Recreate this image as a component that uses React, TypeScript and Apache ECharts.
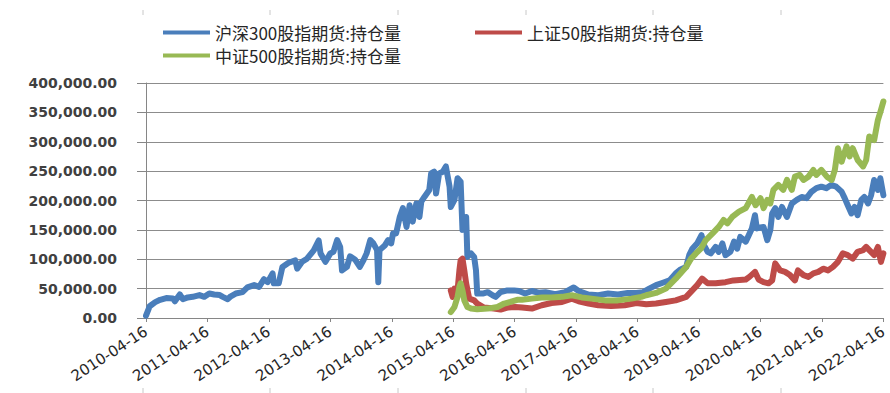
import React, { useEffect, useRef } from "react";
import * as echarts from "echarts";

// x values are decimal years; the axis starts at 2010-04-16 (~2010.29)
const START_YEAR = 2010.29;
const X_TICK_LABELS = [
  "2010-04-16", "2011-04-16", "2012-04-16", "2013-04-16", "2014-04-16", "2015-04-16",
  "2016-04-16", "2017-04-16", "2018-04-16", "2019-04-16", "2020-04-16", "2021-04-16", "2022-04-16",
];
const Y_MIN = 0;
const Y_MAX = 400000;
const Y_INTERVAL = 50000;

const SERIES_NAMES = ["沪深300股指期货:持仓量", "上证50股指期货:持仓量", "中证500股指期货:持仓量"];
const SERIES_COLORS = ["#4A7EBB", "#BE4B48", "#98B954"];

const HS300: [number, number][] = [
  [2010.29, 4000], [2010.35, 20000], [2010.44, 27000], [2010.52, 31000], [2010.62, 34000], [2010.73, 33000],
  [2010.76, 28500], [2010.84, 40000], [2010.89, 32000], [2010.97, 35000], [2011.05, 36000], [2011.16, 39000],
  [2011.24, 36000], [2011.32, 41600], [2011.40, 40000], [2011.49, 39000], [2011.54, 36000], [2011.62, 32000],
  [2011.67, 37000], [2011.75, 41600], [2011.86, 44000], [2011.94, 52000], [2012.05, 56000], [2012.13, 53000],
  [2012.21, 66000], [2012.27, 61000], [2012.35, 76000], [2012.37, 59000], [2012.45, 59000], [2012.51, 87000],
  [2012.61, 94000], [2012.72, 98000], [2012.75, 84000], [2012.83, 95600], [2012.91, 101000], [2013.02, 115000],
  [2013.10, 132000], [2013.13, 110000], [2013.21, 95600], [2013.29, 110000], [2013.34, 112600], [2013.40, 132600],
  [2013.45, 121000], [2013.48, 81000], [2013.56, 87000], [2013.61, 105000], [2013.69, 99700], [2013.77, 87000],
  [2013.83, 98500], [2013.88, 110000], [2013.94, 132600], [2013.99, 127000], [2014.05, 115500], [2014.07, 61000],
  [2014.09, 115500], [2014.18, 124000], [2014.23, 132600], [2014.28, 127000], [2014.31, 144000], [2014.36, 144000],
  [2014.42, 172000], [2014.47, 187000], [2014.53, 155000], [2014.58, 192000], [2014.63, 164000], [2014.69, 195000],
  [2014.74, 172000], [2014.77, 198000], [2014.82, 206000], [2014.90, 218000], [2014.93, 246000], [2014.98, 249000],
  [2015.01, 212000], [2015.06, 246000], [2015.12, 249000], [2015.17, 258000], [2015.23, 223600], [2015.25, 189000],
  [2015.31, 201000], [2015.36, 238000], [2015.41, 232000], [2015.44, 150000], [2015.50, 172000], [2015.52, 104000],
  [2015.58, 110000], [2015.63, 104000], [2015.66, 81000], [2015.68, 41600], [2015.77, 41600], [2015.85, 44000],
  [2015.93, 38700], [2015.98, 36000], [2016.06, 44000], [2016.17, 47000], [2016.28, 47000], [2016.36, 46000],
  [2016.46, 41600], [2016.57, 46000], [2016.68, 43000], [2016.79, 44000], [2016.95, 40400], [2017.11, 44000],
  [2017.25, 52000], [2017.33, 46000], [2017.49, 40000], [2017.65, 38700], [2017.81, 41600], [2017.97, 40000],
  [2018.13, 42700], [2018.27, 42700], [2018.38, 44000], [2018.48, 50000], [2018.59, 56000], [2018.70, 60000],
  [2018.81, 64000], [2018.91, 76000], [2018.99, 82600], [2019.08, 87000], [2019.13, 107000], [2019.18, 118000],
  [2019.26, 127000], [2019.33, 141000], [2019.37, 124000], [2019.43, 112600], [2019.48, 110000], [2019.56, 121000],
  [2019.61, 112600], [2019.67, 127000], [2019.72, 107000], [2019.80, 112600], [2019.86, 130000], [2019.91, 118000],
  [2019.96, 138000], [2020.05, 130000], [2020.10, 141000], [2020.15, 152500], [2020.20, 175000], [2020.23, 152500],
  [2020.29, 154000], [2020.34, 155000], [2020.40, 132600], [2020.45, 150000], [2020.48, 178000], [2020.53, 187000],
  [2020.58, 172000], [2020.64, 189000], [2020.72, 172000], [2020.80, 195000], [2020.88, 201000], [2020.96, 206000],
  [2021.04, 204000], [2021.12, 215000], [2021.20, 221000], [2021.28, 223600], [2021.36, 221000], [2021.44, 226500],
  [2021.52, 223600], [2021.61, 215000], [2021.66, 204000], [2021.71, 192000], [2021.77, 178000], [2021.82, 189000],
  [2021.87, 175000], [2021.93, 201000], [2021.98, 206000], [2022.04, 195000], [2022.09, 209000], [2022.14, 235000],
  [2022.20, 218000], [2022.24, 238000], [2022.29, 209000],
];

const SZ50: [number, number][] = [
  [2015.25, 47000], [2015.28, 36000], [2015.31, 50000], [2015.36, 47000], [2015.39, 81000], [2015.41, 98000],
  [2015.44, 101000], [2015.47, 81000], [2015.50, 59000], [2015.55, 33000], [2015.63, 30000], [2015.68, 24600],
  [2015.79, 17700], [2015.95, 16000], [2016.06, 14300], [2016.17, 17700], [2016.30, 18800], [2016.41, 17700],
  [2016.57, 16000], [2016.73, 21700], [2016.89, 25600], [2017.06, 27300], [2017.22, 33000], [2017.33, 28500],
  [2017.49, 24600], [2017.65, 21700], [2017.86, 20500], [2018.08, 21700], [2018.27, 25600], [2018.43, 23400],
  [2018.59, 24600], [2018.75, 27300], [2018.91, 30000], [2019.08, 36000], [2019.18, 47000], [2019.26, 56000],
  [2019.34, 67000], [2019.43, 59000], [2019.56, 59000], [2019.72, 61000], [2019.85, 64000], [2020.05, 65500],
  [2020.11, 70000], [2020.20, 78500], [2020.26, 65500], [2020.34, 61000], [2020.42, 59000], [2020.48, 64000],
  [2020.53, 93000], [2020.61, 81000], [2020.69, 78500], [2020.77, 73000], [2020.85, 64000], [2020.90, 81000],
  [2020.99, 73000], [2021.07, 70000], [2021.15, 76000], [2021.23, 78500], [2021.31, 84000], [2021.39, 81000],
  [2021.47, 87000], [2021.55, 95600], [2021.63, 110000], [2021.71, 107000], [2021.79, 101000], [2021.87, 112600],
  [2021.96, 115500], [2022.01, 121000], [2022.06, 115500], [2022.14, 107000], [2022.20, 121000], [2022.25, 95600],
  [2022.29, 110000],
];

const ZZ500: [number, number][] = [
  [2015.25, 10000], [2015.31, 18800], [2015.36, 36000], [2015.39, 53000], [2015.41, 59000], [2015.44, 47000],
  [2015.47, 30000], [2015.52, 18800], [2015.58, 16000], [2015.68, 14800], [2015.85, 16000], [2016.01, 18800],
  [2016.12, 24600], [2016.22, 27300], [2016.33, 31000], [2016.41, 31000], [2016.57, 33000], [2016.73, 35000],
  [2016.89, 35000], [2017.06, 36000], [2017.22, 38700], [2017.38, 35000], [2017.54, 33000], [2017.76, 30000],
  [2017.97, 30000], [2018.19, 33000], [2018.35, 36000], [2018.43, 38700], [2018.59, 42700], [2018.75, 50000],
  [2018.91, 67000], [2019.08, 87000], [2019.16, 101000], [2019.24, 110000], [2019.32, 118000], [2019.40, 132600],
  [2019.51, 144000], [2019.61, 155000], [2019.69, 167000], [2019.75, 161000], [2019.83, 172000], [2019.94, 181000],
  [2020.05, 187000], [2020.15, 206000], [2020.21, 192000], [2020.29, 204000], [2020.34, 187000], [2020.40, 201000],
  [2020.45, 195000], [2020.50, 218000], [2020.58, 226500], [2020.66, 218000], [2020.72, 235000], [2020.80, 218000],
  [2020.85, 240600], [2020.93, 243500], [2020.99, 235000], [2021.07, 240600], [2021.15, 252000], [2021.20, 243500],
  [2021.28, 252000], [2021.37, 240600], [2021.45, 235000], [2021.50, 252000], [2021.55, 289000], [2021.61, 266000],
  [2021.69, 292000], [2021.74, 275000], [2021.79, 289000], [2021.87, 269000], [2021.96, 258000], [2022.01, 269000],
  [2022.06, 309000], [2022.14, 303000], [2022.20, 337000], [2022.25, 354000], [2022.29, 368600],
];

const SERIES_DATA = [HS300, SZ50, ZZ500];

// decorative ruler marks at the top and bottom edges of the source picture
const RULER_X = [143, 270, 398, 526, 653, 781];

const toAxis = (pts: [number, number][]) =>
  pts.map(([yr, v]) => [Math.round((yr - START_YEAR) * 10000) / 10000, v]);

export default function App() {
  const ref = useRef<HTMLDivElement>(null);
  useEffect(() => {
    if (!ref.current) return;
    const chart = echarts.init(ref.current, undefined, { renderer: "svg" });
    const legendText = { fontFamily: "Noto Sans CJK SC", fontSize: 17, color: "#262626", padding: [0, 0, 0, 0] };
    const legendBase = {
      orient: "horizontal",
      icon: "rect",
      itemWidth: 47,
      itemHeight: 4,
      itemGap: 20,
      textStyle: legendText,
      selectedMode: false,
      padding: 0,
    };
    const rulerGraphics: any[] = [];
    RULER_X.forEach((x) => {
      rulerGraphics.push({ type: "line", shape: { x1: x, y1: 10, x2: x, y2: 15 }, style: { stroke: "#c8c8c8", lineWidth: 1 } });
      rulerGraphics.push({ type: "line", shape: { x1: x, y1: 388, x2: x, y2: 393 }, style: { stroke: "#c8c8c8", lineWidth: 1 } });
    });
    chart.setOption({
      animation: false,
      backgroundColor: "#ffffff",
      legend: [
        { ...legendBase, left: 163, top: 24, data: [SERIES_NAMES[0]] },
        { ...legendBase, left: 475, top: 24, data: [SERIES_NAMES[1]] },
        { ...legendBase, left: 163, top: 47, data: [SERIES_NAMES[2]] },
      ],
      graphic: rulerGraphics,
      grid: { left: 146, right: 1, top: 83, bottom: 75, containLabel: false },
      xAxis: {
        type: "value",
        min: 0,
        max: X_TICK_LABELS.length - 1,
        interval: 1,
        axisLine: { show: true, onZero: false, lineStyle: { color: "#868686", width: 1 } },
        axisTick: { show: true, length: 4, lineStyle: { color: "#868686" } },
        splitLine: { show: false },
        axisLabel: {
          rotate: 33,
          margin: 12,
          fontFamily: "DejaVu Sans",
          fontSize: 15,
          color: "#262626",
          showMinLabel: true,
          showMaxLabel: true,
          formatter: (v: number) => X_TICK_LABELS[Math.round(v)] ?? "",
        },
      },
      yAxis: {
        type: "value",
        min: Y_MIN,
        max: Y_MAX,
        interval: Y_INTERVAL,
        axisLine: { show: true, lineStyle: { color: "#868686", width: 1 } },
        axisTick: { show: true, length: 9, lineStyle: { color: "#868686" } },
        splitLine: { show: true, lineStyle: { color: "#8c8c8c", width: 1 } },
        axisLabel: {
          margin: 29,
          fontFamily: "DejaVu Sans",
          fontWeight: "bold",
          fontSize: 14,
          color: "#404040",
          formatter: (v: number) =>
            v.toLocaleString("en-US", { minimumFractionDigits: 2, maximumFractionDigits: 2 }),
        },
      },
      series: SERIES_NAMES.map((name, i) => ({
        name,
        type: "line",
        data: toAxis(SERIES_DATA[i]),
        symbol: "none",
        smooth: false,
        color: SERIES_COLORS[i],
        lineStyle: { color: SERIES_COLORS[i], width: 6, cap: "round", join: "round" },
        z: 2 + i,
      })),
    });
    return () => chart.dispose();
  }, []);
  return (
    <div
      ref={ref}
      style={{ position: "fixed", left: 0, top: 0, width: 890, height: 393, background: "#fff" }}
    />
  );
}
